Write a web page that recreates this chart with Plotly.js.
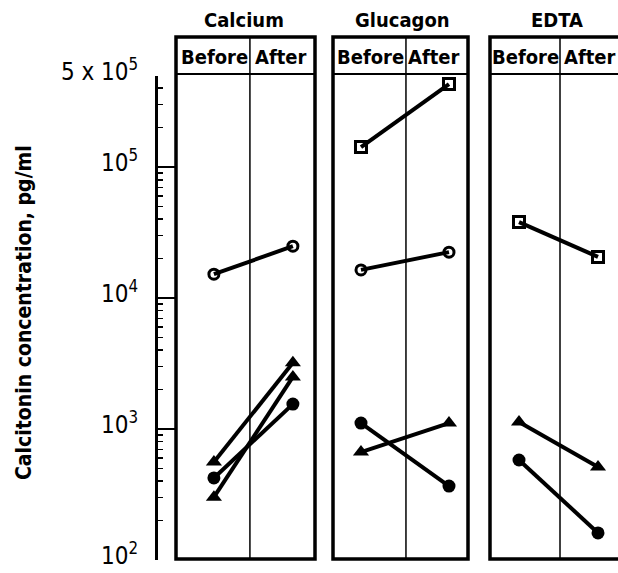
<!DOCTYPE html>
<html>
<head>
<meta charset="utf-8">
<script src="https://cdn.plot.ly/plotly-3.0.1.min.js"></script>
<style>html,body{margin:0;padding:0;background:#fff;}#chart{width:618px;height:573px;}</style>
</head>
<body>
<div id="chart"></div>
<script>
// ---- data ----
const categories = ['Before', 'After'];
const panelNames = ['Calcium', 'Glucagon', 'EDTA'];

// Calcium
const calciumOpenCircle   = [15200, 24900];
const calciumTriangleHigh = [560, 3200];
const calciumFilledCircle = [423, 1550];
const calciumTriangleLow  = [302, 2500];

// Glucagon
const glucagonOpenSquare   = [142000, 430000];
const glucagonOpenCircle   = [16400, 22400];
const glucagonFilledCircle = [1110, 367];
const glucagonTriangle     = [667, 1110];

// EDTA
const edtaOpenSquare   = [38000, 20600];
const edtaTriangle     = [1130, 513];
const edtaFilledCircle = [580, 161];

const yTickVals = [100, 1000, 10000, 100000, 500000];
const yTickText = ['10<sup>2</sup>', '10<sup>3</sup>', '10<sup>4</sup>', '10<sup>5</sup>', '5 x 10<sup>5</sup>'];
const yTitle = 'Calcitonin concentration, pg/ml';

// ---- styling ----
const W = 618, H = 573;
const px = v => v / W;
const py = v => 1 - v / H;
const FONT = 'DejaVu Sans Condensed, DejaVu Sans';

const markerStyles = {
  openCircle:   {symbol: 'circle-open',  size: 10, color: 'black', line: {width: 3, color: 'black'}},
  filledCircle: {symbol: 'circle',       size: 13, color: 'black'},
  triangle:     {symbol: 'triangle-up',  size: 14, color: 'black'},
  openSquare:   {symbol: 'square-open',  size: 11, color: 'black', line: {width: 3, color: 'black'}}
};

function series(y, style, xa) {
  return {
    x: categories, y: y, xaxis: xa, yaxis: 'y',
    type: 'scatter', mode: 'lines+markers',
    line: {color: 'black', width: 4},
    marker: markerStyles[style],
    cliponaxis: false, showlegend: false, hoverinfo: 'skip'
  };
}

const traces = [
  series(calciumOpenCircle, 'openCircle', 'x'),
  series(calciumTriangleHigh, 'triangle', 'x'),
  series(calciumFilledCircle, 'filledCircle', 'x'),
  series(calciumTriangleLow, 'triangle', 'x'),
  series(glucagonOpenSquare, 'openSquare', 'x2'),
  series(glucagonOpenCircle, 'openCircle', 'x2'),
  series(glucagonFilledCircle, 'filledCircle', 'x2'),
  series(glucagonTriangle, 'triangle', 'x2'),
  series(edtaOpenSquare, 'openSquare', 'x3'),
  series(edtaTriangle, 'triangle', 'x3'),
  series(edtaFilledCircle, 'filledCircle', 'x3')
];

const xBase = {type: 'category', categoryorder: 'array', categoryarray: categories,
  showticklabels: false, showline: false, showgrid: false, zeroline: false, ticks: '', anchor: 'y', fixedrange: true};

const panels = [
  {ax: 'x',  domain: [px(176), px(315)], range: [-0.48, 1.28],  divider: 0.456, boxRight: 1,   titleX: px(244), beforeX: px(214), afterX: px(281)},
  {ax: 'x2', domain: [px(333), px(468)], range: [-0.318, 1.216], divider: 0.511, boxRight: 1,  titleX: px(402), beforeX: px(370), afterX: px(434)},
  {ax: 'x3', domain: [px(490), 1],       range: [-0.367, 1.253], divider: 0.519, boxRight: 1.2, titleX: px(557), beforeX: px(525), afterX: px(590)}
];

const yBottom = py(559), yTop = py(37), yHeader = py(74);

const shapes = [];
const annotations = [];
panels.forEach((p, i) => {
  shapes.push({type: 'rect', xref: p.ax + ' domain', yref: 'paper', x0: 0, x1: p.boxRight, y0: yBottom, y1: yTop,
    line: {color: 'black', width: 3.5}, fillcolor: 'rgba(0,0,0,0)'});
  shapes.push({type: 'line', xref: p.ax + ' domain', yref: 'paper', x0: 0, x1: Math.min(p.boxRight, 1.2), y0: yHeader, y1: yHeader,
    line: {color: 'black', width: 2}});
  shapes.push({type: 'line', xref: p.ax, yref: 'paper', x0: p.divider, x1: p.divider, y0: yBottom, y1: yTop,
    line: {color: 'black', width: 1.5}});
  annotations.push({text: '<b>' + panelNames[i] + '</b>', xref: 'paper', yref: 'paper', x: p.titleX, y: py(20),
    xanchor: 'center', yanchor: 'middle', showarrow: false, font: {family: FONT, size: 20, color: 'black'}});
  annotations.push({text: '<b>' + categories[0] + '</b>', xref: 'paper', yref: 'paper', x: p.beforeX, y: py(57),
    xanchor: 'center', yanchor: 'middle', showarrow: false, font: {family: FONT, size: 20, color: 'black'}});
  annotations.push({text: '<b>' + categories[1] + '</b>', xref: 'paper', yref: 'paper', x: p.afterX, y: py(57),
    xanchor: 'center', yanchor: 'middle', showarrow: false, font: {family: FONT, size: 20, color: 'black'}});
});
annotations.push({text: '<b>' + yTitle + '</b>', xref: 'paper', yref: 'paper', x: px(24), y: py(313),
  xanchor: 'center', yanchor: 'middle', textangle: -90, showarrow: false,
  font: {family: FONT, size: 21, color: 'black'}});

const layout = {
  width: W, height: H,
  margin: {l: 0, r: 0, t: 0, b: 0, pad: 0},
  paper_bgcolor: 'white', plot_bgcolor: 'rgba(0,0,0,0)',
  showlegend: false,
  xaxis:  Object.assign({}, xBase, {domain: panels[0].domain, range: panels[0].range}),
  xaxis2: Object.assign({}, xBase, {domain: panels[1].domain, range: panels[1].range}),
  xaxis3: Object.assign({}, xBase, {domain: panels[2].domain, range: panels[2].range}),
  yaxis: {
    type: 'log', range: [2, Math.log10(5e5)],
    domain: [py(560), py(75.5)],
    anchor: 'free', position: px(156), side: 'left',
    showline: true, linewidth: 3, linecolor: 'black',
    ticks: 'inside', ticklen: 18, tickwidth: 2.5, tickcolor: 'black',
    tickmode: 'array', tickvals: yTickVals, ticktext: yTickText,
    ticklabelstandoff: 12, ticklabeloverflow: 'allow', ticklabelshift: -4,
    tickfont: {family: FONT, size: 24, color: 'black'},
    minor: {ticks: 'inside', ticklen: 5, tickwidth: 1.5, tickcolor: 'black', dtick: 'D1', showgrid: false},
    showgrid: false, zeroline: false, fixedrange: true
  },
  shapes: shapes,
  annotations: annotations
};

Plotly.newPlot('chart', traces, layout, {staticPlot: true, displayModeBar: false});
</script>
</body>
</html>
